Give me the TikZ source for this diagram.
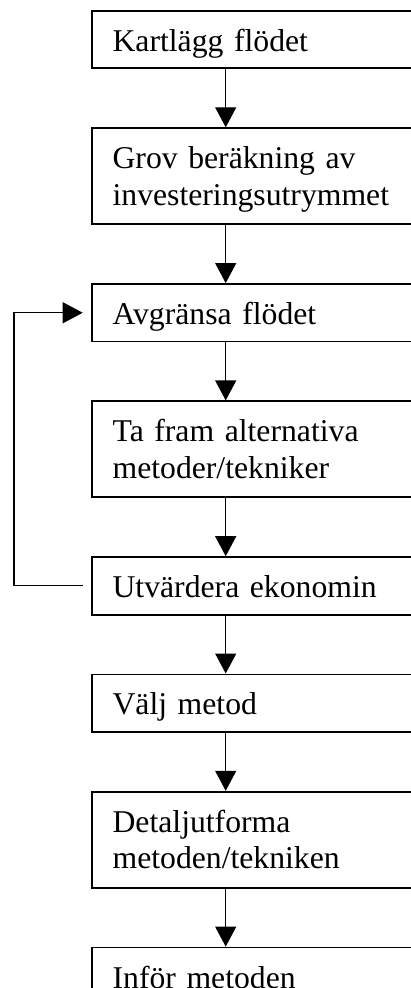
\documentclass[tikz,border=0pt]{standalone}
\usepackage{fontspec}
\setmainfont{Liberation Serif}
\usetikzlibrary{positioning, arrows.meta}
\tikzset{
	stepbox/.style = {draw, line width = 0.9pt, rectangle, anchor = north west, inner xsep = 10.5pt, inner ysep = 0pt, text width = 148.65pt, align = left, text height = 20.25pt, text depth = 8.5pt, font = \fontsize{15.85pt}{18.35pt}\selectfont},
	twoline/.style = {stepbox, text depth = 27.75pt},
	flow/.style = {line width = 0.6pt, -{Triangle[length = 10pt, width = 10.5pt]}}
}
\begin{document}
\begin{tikzpicture} [x = 0.5pt, y = -0.5pt]
	\useasboundingbox (0,0) rectangle (411,988);
	\clip (0,0) rectangle (411,988);
	\node [stepbox] (k1) at (90.7,10) {Kartlägg flödet};
	\node [twoline, below = 29pt of k1] (k2) {Grov beräkning av\\investeringsutrymmet};
	\node [stepbox, below = 29pt of k2] (k3) {Avgränsa flödet};
	\node [twoline, below = 29pt of k3] (k4) {Ta fram alternativa\\metoder/tekniker};
	\node [stepbox, below = 29pt of k4] (k5) {Utvärdera ekonomin};
	\node [stepbox, below = 29pt of k5] (k6) {Välj metod};
	\node [twoline, below = 29pt of k6] (k7) {Detaljutforma\\metoden/tekniken};
	\node [stepbox, below = 29pt of k7] (k8) {Inför metoden};
	\foreach \a/\b in {k1/k2, k2/k3, k3/k4, k4/k5, k5/k6, k6/k7, k7/k8}
		\draw [flow] ([xshift = 67.5pt]\a.south west) -- ([xshift = 67.5pt]\b.north west);
	\draw [flow, shorten <= 4pt, shorten >= 4pt] (k5.west) -- ++(-38.35pt,0) |- (k3.west);
\end{tikzpicture}
\end{document}
